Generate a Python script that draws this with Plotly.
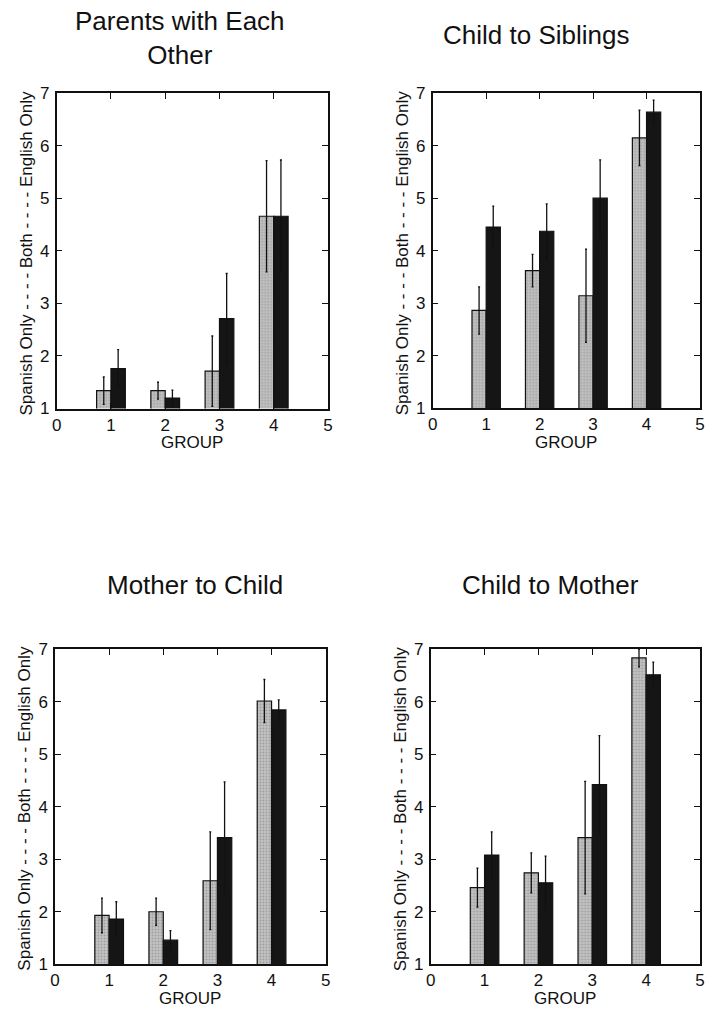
import plotly.graph_objects as go

groups = [1, 2, 3, 4]
titles = ["Parents with Each<br>Other", "Child to Siblings", "Mother to Child", "Child to Mother"]

# Panel values: gray series (first bar) and black series (second bar), means and error sizes
parents_gray = [1.34, 1.34, 1.71, 4.66]
parents_gray_err = [0.26, 0.16, 0.67, 1.06]
parents_black = [1.76, 1.20, 2.71, 4.66]
parents_black_err = [0.36, 0.15, 0.86, 1.07]

siblings_gray = [2.86, 3.62, 3.14, 6.15]
siblings_gray_err = [0.45, 0.31, 0.89, 0.53]
siblings_black = [4.45, 4.37, 5.00, 6.64]
siblings_black_err = [0.40, 0.52, 0.73, 0.23]

mother_child_gray = [1.93, 2.00, 2.59, 6.01]
mother_child_gray_err = [0.33, 0.26, 0.93, 0.41]
mother_child_black = [1.86, 1.46, 3.41, 5.84]
mother_child_black_err = [0.33, 0.18, 1.06, 0.19]

child_mother_gray = [2.46, 2.74, 3.41, 6.83]
child_mother_gray_err = [0.37, 0.38, 1.07, 0.17]
child_mother_black = [3.08, 2.55, 4.42, 6.51]
child_mother_black_err = [0.44, 0.51, 0.93, 0.24]

x_ticks = [0, 1, 2, 3, 4, 5]
y_ticks = [1, 2, 3, 4, 5, 6, 7]
y_title = "Spanish Only - - - - Both - - - - English Only"
x_title = "GROUP"

panels = [
    (parents_gray, parents_gray_err, parents_black, parents_black_err),
    (siblings_gray, siblings_gray_err, siblings_black, siblings_black_err),
    (mother_child_gray, mother_child_gray_err, mother_child_black, mother_child_black_err),
    (child_mother_gray, child_mother_gray_err, child_mother_black, child_mother_black_err),
]

W, H = 705, 1011
# plot areas in pixels: (x0, x1, ytop, ybottom)
areas = [
    (56.7, 328.0, 93.3, 408.5),
    (432.7, 700.0, 93.3, 408.0),
    (55.0, 325.7, 649.0, 964.3),
    (430.7, 700.0, 649.0, 964.3),
]
title_pos = [(180, 38), (536, 35), (195, 585), (550, 585)]

FONT = "Liberation Sans, Arial, sans-serif"
fig = go.Figure()
layout = dict(
    width=W, height=H, margin=dict(l=0, r=0, t=0, b=0, autoexpand=False),
    paper_bgcolor="white", plot_bgcolor="white",
    barmode="group", bargap=0.47, bargroupgap=0.0,
    showlegend=False, font=dict(family=FONT, color="#111"),
)
annotations = []
for i, (g, ge, b, be) in enumerate(panels):
    n = i + 1
    xa = "x" if n == 1 else f"x{n}"
    ya = "y" if n == 1 else f"y{n}"
    fig.add_trace(go.Bar(
        x=groups, y=g, xaxis=xa, yaxis=ya,
        marker=dict(color="#b8b8b8", line=dict(color="#111", width=1.2),
                    pattern=dict(shape=".", fgcolor="#7a7a7a", bgcolor="#c2c2c2", size=3, solidity=0.3)),
        error_y=dict(type="data", array=ge, visible=True, color="#111", thickness=1.3, width=1),
    ))
    fig.add_trace(go.Bar(
        x=groups, y=b, xaxis=xa, yaxis=ya,
        marker=dict(color="#151515", line=dict(color="#111", width=1.2)),
        error_y=dict(type="data", array=be, visible=True, color="#111", thickness=1.3, width=1),
    ))
    x0, x1, yt, yb = areas[i]
    key_x = "xaxis" if n == 1 else f"xaxis{n}"
    key_y = "yaxis" if n == 1 else f"yaxis{n}"
    layout[key_x] = dict(
        domain=[x0 / W, x1 / W], anchor=ya, range=[0, 5], tickvals=x_ticks,
        ticks="inside", ticklen=6, tickwidth=1.2, tickcolor="#111", mirror="ticks",
        showline=True, linecolor="#111", linewidth=1.5, showgrid=False, zeroline=False,
        tickfont=dict(size=17, family=FONT, color="#111"), automargin=False,
    )
    layout[key_y] = dict(
        domain=[1 - yb / H, 1 - yt / H], anchor=xa, range=[1, 7], tickvals=y_ticks,
        ticks="inside", ticklen=6, tickwidth=1.2, tickcolor="#111", mirror="ticks",
        showline=True, linecolor="#111", linewidth=1.5, showgrid=False, zeroline=False,
        tickfont=dict(size=17, family=FONT, color="#111"), ticklabelstandoff=2, automargin=False,
    )
    tx, ty = title_pos[i]
    annotations.append(dict(text=titles[i], x=tx / W, y=1 - ty / H, xref="paper", yref="paper",
                            showarrow=False, font=dict(size=26, family=FONT, color="#111"),
                            xanchor="center", yanchor="middle"))
    annotations.append(dict(text=y_title, x=(x0 - 30) / W, y=1 - ((yt + yb) / 2 + 2) / H,
                            xref="paper", yref="paper", showarrow=False, textangle=-90,
                            font=dict(size=17, family=FONT, color="#111"),
                            xanchor="center", yanchor="middle"))
    annotations.append(dict(text=x_title, x=((x0 + x1) / 2) / W, y=1 - (yb + 34) / H,
                            xref="paper", yref="paper", showarrow=False,
                            font=dict(size=17, family=FONT, color="#111"),
                            xanchor="center", yanchor="middle"))

layout["annotations"] = annotations
fig.update_layout(**layout)
fig.write_html("out.html", config={"displayModeBar": False},
               post_script="document.body.style.margin='0px';document.body.style.overflow='hidden';")
